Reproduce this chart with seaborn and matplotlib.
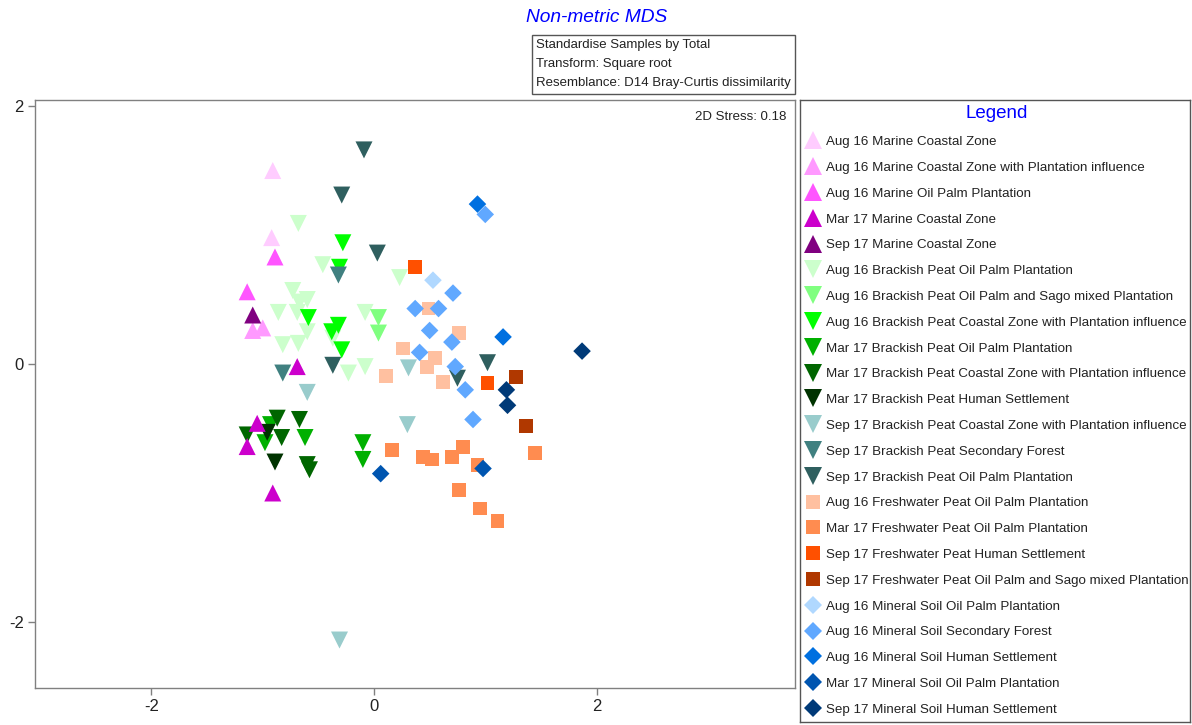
import matplotlib
matplotlib.use("Agg")
import matplotlib.pyplot as plt
from matplotlib.lines import Line2D
from matplotlib.patches import Rectangle
import pandas as pd
import seaborn as sns

# Sample groups (legend order), their colours and marker shapes
categories = [
    "Aug 16 Marine Coastal Zone",
    "Aug 16 Marine Coastal Zone with Plantation influence",
    "Aug 16 Marine Oil Palm Plantation",
    "Mar 17 Marine Coastal Zone",
    "Sep 17 Marine Coastal Zone",
    "Aug 16 Brackish Peat Oil Palm Plantation",
    "Aug 16 Brackish Peat Oil Palm and Sago mixed Plantation",
    "Aug 16 Brackish Peat Coastal Zone with Plantation influence",
    "Mar 17 Brackish Peat Oil Palm Plantation",
    "Mar 17 Brackish Peat Coastal Zone with Plantation influence",
    "Mar 17 Brackish Peat Human Settlement",
    "Sep 17 Brackish Peat Coastal Zone with Plantation influence",
    "Sep 17 Brackish Peat Secondary Forest",
    "Sep 17 Brackish Peat Oil Palm Plantation",
    "Aug 16 Freshwater Peat Oil Palm Plantation",
    "Mar 17 Freshwater Peat Oil Palm Plantation",
    "Sep 17 Freshwater Peat Human Settlement",
    "Sep 17 Freshwater Peat Oil Palm and Sago mixed Plantation",
    "Aug 16 Mineral Soil Oil Palm Plantation",
    "Aug 16 Mineral Soil Secondary Forest",
    "Aug 16 Mineral Soil Human Settlement",
    "Mar 17 Mineral Soil Oil Palm Plantation",
    "Sep 17 Mineral Soil Human Settlement",
]
colors = [
    "#FFCCFF", "#FF99FF", "#FF55FF", "#CC00CC", "#800080",
    "#CCFFCC", "#80FF80", "#00FF00", "#00B000", "#006600", "#003300",
    "#99CCCC", "#408080", "#2F5F5F",
    "#FFC0A0", "#FF8C50", "#FF5000", "#B03800",
    "#B0D8FF", "#60A8FF", "#0070E0", "#0055B0", "#003A78",
]
markers = ["^"] * 5 + ["v"] * 9 + ["s"] * 4 + ["D"] * 5

# MDS coordinates per group
aug16_marine_cz_x = [-0.91, -0.92]
aug16_marine_cz_y = [1.50, 0.98]
aug16_marine_czpi_x = [-1.09, -1.00]
aug16_marine_czpi_y = [0.26, 0.28]
aug16_marine_op_x = [-0.89, -1.14]
aug16_marine_op_y = [0.83, 0.56]
mar17_marine_cz_x = [-0.69, -1.05, -1.14, -0.91]
mar17_marine_cz_y = [-0.02, -0.46, -0.64, -1.00]
sep17_marine_cz_x = [-1.09]
sep17_marine_cz_y = [0.38]

aug16_bp_op_x = [-0.68, -0.46, -0.73, -0.67, -0.60, -0.86, -0.69, -0.60,
                 -0.82, -0.68, -0.37, -0.23, -0.08, -0.08, 0.23]
aug16_bp_op_y = [1.09, 0.77, 0.57, 0.48, 0.50, 0.40, 0.40, 0.25,
                 0.15, 0.16, 0.20, -0.07, -0.02, 0.40, 0.67]
aug16_bp_sago_x = [0.04, 0.04]
aug16_bp_sago_y = [0.36, 0.24]
aug16_bp_czpi_x = [-0.28, -0.31, -0.59, -0.32, -0.38, -0.29]
aug16_bp_czpi_y = [0.94, 0.75, 0.36, 0.30, 0.25, 0.11]
mar17_bp_op_x = [-0.93, -0.62, -0.10, -0.10, -0.98]
mar17_bp_op_y = [-0.47, -0.57, -0.61, -0.74, -0.61]
mar17_bp_czpi_x = [-0.87, -0.67, -1.14, -0.83, -0.60, -0.58]
mar17_bp_czpi_y = [-0.42, -0.43, -0.55, -0.57, -0.78, -0.82]
mar17_bp_hs_x = [-0.96, -0.89]
mar17_bp_hs_y = [-0.53, -0.76]
sep17_bp_czpi_x = [-0.60, 0.31, 0.30, -0.31]
sep17_bp_czpi_y = [-0.22, -0.03, -0.47, -2.14]
sep17_bp_sf_x = [-0.82, -0.32]
sep17_bp_sf_y = [-0.07, 0.69]
sep17_bp_op_x = [-0.09, -0.29, 0.03, 1.02, 0.75, -0.37]
sep17_bp_op_y = [1.66, 1.31, 0.86, 0.01, -0.11, -0.01]

aug16_fp_op_x = [0.76, 0.26, 0.11, 0.48, 0.55, 0.62, 0.49]
aug16_fp_op_y = [0.24, 0.12, -0.09, -0.02, 0.05, -0.14, 0.43]
mar17_fp_op_x = [0.16, 0.44, 0.52, 0.70, 0.80, 0.93, 0.76, 0.95, 1.11, 1.45]
mar17_fp_op_y = [-0.67, -0.72, -0.74, -0.72, -0.64, -0.78, -0.98, -1.12, -1.22, -0.69]
sep17_fp_hs_x = [0.37, 1.02]
sep17_fp_hs_y = [0.75, -0.15]
sep17_fp_sago_x = [1.28, 1.37]
sep17_fp_sago_y = [-0.10, -0.48]

aug16_ms_op_x = [0.53]
aug16_ms_op_y = [0.65]
aug16_ms_sf_x = [1.00, 0.71, 0.37, 0.58, 0.50, 0.70, 0.41, 0.73, 0.82, 0.89]
aug16_ms_sf_y = [1.16, 0.55, 0.43, 0.43, 0.26, 0.17, 0.09, -0.02, -0.20, -0.43]
aug16_ms_hs_x = [0.93, 1.16]
aug16_ms_hs_y = [1.24, 0.21]
mar17_ms_op_x = [0.06, 0.98]
mar17_ms_op_y = [-0.85, -0.81]
sep17_ms_hs_x = [1.87, 1.19, 1.20]
sep17_ms_hs_y = [0.10, -0.20, -0.32]

group_points = [
    (aug16_marine_cz_x, aug16_marine_cz_y),
    (aug16_marine_czpi_x, aug16_marine_czpi_y),
    (aug16_marine_op_x, aug16_marine_op_y),
    (mar17_marine_cz_x, mar17_marine_cz_y),
    (sep17_marine_cz_x, sep17_marine_cz_y),
    (aug16_bp_op_x, aug16_bp_op_y),
    (aug16_bp_sago_x, aug16_bp_sago_y),
    (aug16_bp_czpi_x, aug16_bp_czpi_y),
    (mar17_bp_op_x, mar17_bp_op_y),
    (mar17_bp_czpi_x, mar17_bp_czpi_y),
    (mar17_bp_hs_x, mar17_bp_hs_y),
    (sep17_bp_czpi_x, sep17_bp_czpi_y),
    (sep17_bp_sf_x, sep17_bp_sf_y),
    (sep17_bp_op_x, sep17_bp_op_y),
    (aug16_fp_op_x, aug16_fp_op_y),
    (mar17_fp_op_x, mar17_fp_op_y),
    (sep17_fp_hs_x, sep17_fp_hs_y),
    (sep17_fp_sago_x, sep17_fp_sago_y),
    (aug16_ms_op_x, aug16_ms_op_y),
    (aug16_ms_sf_x, aug16_ms_sf_y),
    (aug16_ms_hs_x, aug16_ms_hs_y),
    (mar17_ms_op_x, mar17_ms_op_y),
    (sep17_ms_hs_x, sep17_ms_hs_y),
]

rows = []
for name, (xs, ys) in zip(categories, group_points):
    for x, y in zip(xs, ys):
        rows.append({"group": name, "MDS1": x, "MDS2": y})
df = pd.DataFrame(rows)
# marine samples drawn last so they sit on top
is_marine = df["group"].str.contains("Marine")
df = pd.concat([df[~is_marine], df[is_marine]], ignore_index=True)

palette = dict(zip(categories, colors))
marker_map = dict(zip(categories, markers))
marker_area = {"^": 150, "v": 150, "s": 100, "D": 80}
df["area"] = df["group"].map(lambda g: marker_area[marker_map[g]])

sns.set_style("white")
plt.rcParams["font.family"] = ["Liberation Sans", "DejaVu Sans"]
plt.rcParams["axes.unicode_minus"] = False

W, H = 1192, 725
fig = plt.figure(figsize=(W / 100, H / 100), dpi=100)

def fx(px):
    return px / W

def fy(py):
    return 1 - py / H

ax = fig.add_axes([fx(35), fy(688), fx(795) - fx(35), fy(100) - fy(688)])
sns.scatterplot(
    data=df, x="MDS1", y="MDS2", hue="group", style="group",
    hue_order=categories, style_order=categories,
    palette=palette, markers=marker_map, size="area",
    sizes=(80, 150), linewidth=0, alpha=1, legend=False, ax=ax,
)
ax.set_xlim(-3.047, 3.784)
ax.set_ylim(-2.512, 2.047)
ax.set_xticks([-2, 0, 2])
ax.set_yticks([-2, 0, 2])
ax.set_xlabel("")
ax.set_ylabel("")
ax.tick_params(axis="both", direction="out", length=5, width=1, color="#808080",
               labelsize=12, labelcolor="#222222", bottom=True, left=True, pad=3)
for sp in ax.spines.values():
    sp.set_color("#808080")
    sp.set_linewidth(1)
ax.text(0.989, 0.982, "2D Stress: 0.18", transform=ax.transAxes,
        ha="right", va="top", fontsize=9.5, color="#222222")

# Title and processing note box
fig.text(fx(597), fy(18), "Non-metric MDS", ha="center", va="center",
         fontsize=13.8, style="italic", color="#0000FF")
fig.patches.append(Rectangle((fx(532), fy(94)), fx(795) - fx(532), fy(35) - fy(94),
                             transform=fig.transFigure, fill=False,
                             edgecolor="#555555", linewidth=1))
for i, line in enumerate(["Standardise Samples by Total",
                          "Transform: Square root",
                          "Resemblance: D14 Bray-Curtis dissimilarity"]):
    fig.text(fx(536), fy(45 + 19 * i), line, ha="left", va="center",
             fontsize=9.5, color="#222222")

# Legend panel
lax = fig.add_axes([fx(800), fy(722), fx(1190) - fx(800), fy(100) - fy(722)])
lax.set_xticks([])
lax.set_yticks([])
for sp in lax.spines.values():
    sp.set_color("#555555")
    sp.set_linewidth(1)
handles = [
    Line2D([], [], linestyle="none", marker=m, color=c, markeredgewidth=0,
           markersize={"^": 12.5, "v": 12.5, "s": 10.5, "D": 9.5}[m])
    for c, m in zip(colors, markers)
]
leg = lax.legend(handles, categories, loc="upper left", bbox_to_anchor=(0.0, 1.0),
                 frameon=False, title="Legend", fontsize=9.6, title_fontsize=13.5,
                 handlelength=1.1, handletextpad=0.45, labelspacing=1.01,
                 borderaxespad=0.15, borderpad=0.25)
leg.get_title().set_color("#0000FF")
for t in leg.get_texts():
    t.set_color("#222222")

fig.savefig("out.png", dpi=100)
